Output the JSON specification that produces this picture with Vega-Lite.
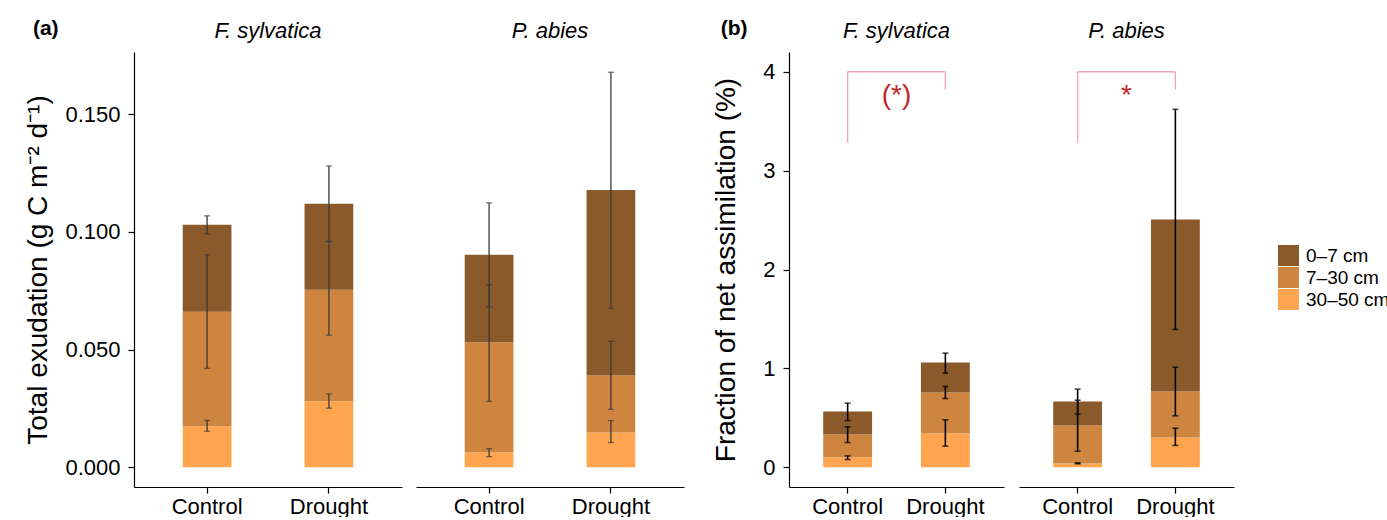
{
  "$schema": "https://vega.github.io/schema/vega-lite/v6.json",
  "background": "white",
  "autosize": {"type": "pad"},
  "padding": {"left": 24, "top": 18, "right": 5, "bottom": 0},
  "config": {
    "font": "Liberation Sans",
    "view": {"stroke": null},
    "axis": {"grid": false, "domainColor": "#000", "domainWidth": 1.2, "tickColor": "#000", "tickWidth": 1.2, "tickSize": 6, "labelColor": "#000", "labelFontSize": 22, "titleColor": "#000", "titleFontWeight": "normal", "titleFontSize": 28},
    "header": {"labelFontStyle": "italic", "labelFontSize": 22, "labelColor": "#000", "labelPadding": 9},
    "title": {"fontSize": 21, "fontWeight": "bold", "anchor": "start", "frame": "bounds", "color": "#000"}
  },
  "datasets": {
    "exud": [
      {"species": "F. sylvatica", "treatment": "Control", "depth": "30–50 cm", "top_cm": 30, "value": 0.0174, "lo": 0.0153, "hi": 0.0199},
      {"species": "F. sylvatica", "treatment": "Control", "depth": "7–30 cm", "top_cm": 7, "value": 0.0487, "lo": 0.042, "hi": 0.0903},
      {"species": "F. sylvatica", "treatment": "Control", "depth": "0–7 cm", "top_cm": 0, "value": 0.0369, "lo": 0.0992, "hi": 0.1068},
      {"species": "F. sylvatica", "treatment": "Drought", "depth": "30–50 cm", "top_cm": 30, "value": 0.028, "lo": 0.0251, "hi": 0.0311},
      {"species": "F. sylvatica", "treatment": "Drought", "depth": "7–30 cm", "top_cm": 7, "value": 0.0474, "lo": 0.0561, "hi": 0.0958},
      {"species": "F. sylvatica", "treatment": "Drought", "depth": "0–7 cm", "top_cm": 0, "value": 0.0365, "lo": 0.096, "hi": 0.128},
      {"species": "P. abies", "treatment": "Control", "depth": "30–50 cm", "top_cm": 30, "value": 0.0064, "lo": 0.0045, "hi": 0.0079},
      {"species": "P. abies", "treatment": "Control", "depth": "7–30 cm", "top_cm": 7, "value": 0.0467, "lo": 0.028, "hi": 0.0775},
      {"species": "P. abies", "treatment": "Control", "depth": "0–7 cm", "top_cm": 0, "value": 0.0372, "lo": 0.0682, "hi": 0.1123},
      {"species": "P. abies", "treatment": "Drought", "depth": "30–50 cm", "top_cm": 30, "value": 0.0148, "lo": 0.0105, "hi": 0.0198},
      {"species": "P. abies", "treatment": "Drought", "depth": "7–30 cm", "top_cm": 7, "value": 0.0242, "lo": 0.0246, "hi": 0.0535},
      {"species": "P. abies", "treatment": "Drought", "depth": "0–7 cm", "top_cm": 0, "value": 0.0788, "lo": 0.0675, "hi": 0.1678}
    ],
    "assim": [
      {"kind": "bar", "species": "F. sylvatica", "treatment": "Control", "depth": "30–50 cm", "top_cm": 30, "value": 0.098, "lo": 0.078, "hi": 0.115},
      {"kind": "bar", "species": "F. sylvatica", "treatment": "Control", "depth": "7–30 cm", "top_cm": 7, "value": 0.233, "lo": 0.25, "hi": 0.409},
      {"kind": "bar", "species": "F. sylvatica", "treatment": "Control", "depth": "0–7 cm", "top_cm": 0, "value": 0.233, "lo": 0.473, "hi": 0.648},
      {"kind": "bar", "species": "F. sylvatica", "treatment": "Drought", "depth": "30–50 cm", "top_cm": 30, "value": 0.341, "lo": 0.213, "hi": 0.48},
      {"kind": "bar", "species": "F. sylvatica", "treatment": "Drought", "depth": "7–30 cm", "top_cm": 7, "value": 0.415, "lo": 0.695, "hi": 0.817},
      {"kind": "bar", "species": "F. sylvatica", "treatment": "Drought", "depth": "0–7 cm", "top_cm": 0, "value": 0.304, "lo": 0.951, "hi": 1.154},
      {"kind": "bar", "species": "P. abies", "treatment": "Control", "depth": "30–50 cm", "top_cm": 30, "value": 0.037, "lo": 0.035, "hi": 0.045},
      {"kind": "bar", "species": "P. abies", "treatment": "Control", "depth": "7–30 cm", "top_cm": 7, "value": 0.385, "lo": 0.162, "hi": 0.678},
      {"kind": "bar", "species": "P. abies", "treatment": "Control", "depth": "0–7 cm", "top_cm": 0, "value": 0.243, "lo": 0.536, "hi": 0.79},
      {"kind": "bar", "species": "P. abies", "treatment": "Drought", "depth": "30–50 cm", "top_cm": 30, "value": 0.3, "lo": 0.22, "hi": 0.395},
      {"kind": "bar", "species": "P. abies", "treatment": "Drought", "depth": "7–30 cm", "top_cm": 7, "value": 0.466, "lo": 0.52, "hi": 1.012},
      {"kind": "bar", "species": "P. abies", "treatment": "Drought", "depth": "0–7 cm", "top_cm": 0, "value": 1.741, "lo": 1.394, "hi": 3.62},
      {"kind": "sig", "species": "F. sylvatica", "left": "Control", "right": "Drought", "top": 4.0, "leftEnd": 3.28, "rightEnd": 3.82, "label": "(*)", "labelY": 3.76},
      {"kind": "sig", "species": "P. abies", "left": "Control", "right": "Drought", "top": 4.0, "leftEnd": 3.28, "rightEnd": 3.82, "label": "*", "labelY": 3.76}
    ]
  },
  "spacing": 28,
  "hconcat": [
    {
      "data": {"name": "exud"},
      "title": {"text": "(a)", "offset": -19, "dx": 8},
      "facet": {"column": {"field": "species", "type": "nominal", "title": null, "sort": ["F. sylvatica", "P. abies"]}},
      "spacing": 14,
      "spec": {
        "width": 268,
        "height": 435,
        "encoding": {
          "x": {"field": "treatment", "type": "nominal", "scale": {"paddingInner": 0.6, "paddingOuter": 0.4}, "axis": {"title": null, "labelAngle": 0, "labelPadding": 3}}
        },
        "layer": [
          {
            "mark": {"type": "bar"},
            "encoding": {
              "y": {"field": "value", "type": "quantitative", "stack": "zero", "scale": {"domain": [-0.0084, 0.1764], "nice": false, "zero": false}, "axis": {"title": "Total exudation (g C m⁻² d⁻¹)", "values": [0, 0.05, 0.1, 0.15], "format": ".3f", "labelPadding": 8, "titlePadding": 12}},
              "color": {"field": "depth", "type": "nominal", "scale": {"domain": ["0–7 cm", "7–30 cm", "30–50 cm"], "range": ["#8B5A2B", "#CD853F", "#FFA54F"]}, "legend": {"title": null, "orient": "none", "legendX": 1144, "legendY": 193, "symbolType": "square", "symbolSize": 441, "symbolStrokeWidth": 0, "symbolOpacity": 1, "labelFontSize": 19, "labelColor": "#000", "labelOffset": 7, "rowPadding": 1}},
              "order": {"field": "top_cm", "sort": "descending"}
            }
          },
          {
            "mark": {"type": "rule", "color": "#3a3a3a", "strokeWidth": 1.3},
            "encoding": {"x": {"field": "treatment", "type": "nominal", "bandPosition": 0.5}, "y": {"field": "lo", "type": "quantitative"}, "y2": {"field": "hi"}}
          },
          {
            "mark": {"type": "tick", "color": "#3a3a3a", "size": 6, "thickness": 1.3},
            "encoding": {"x": {"field": "treatment", "type": "nominal", "bandPosition": 0.5}, "y": {"field": "lo", "type": "quantitative"}}
          },
          {
            "mark": {"type": "tick", "color": "#3a3a3a", "size": 6, "thickness": 1.3},
            "encoding": {"x": {"field": "treatment", "type": "nominal", "bandPosition": 0.5}, "y": {"field": "hi", "type": "quantitative"}}
          }
        ]
      }
    },
    {
      "data": {"name": "assim"},
      "title": {"text": "(b)", "offset": -19, "dx": 8},
      "facet": {"column": {"field": "species", "type": "nominal", "title": null, "sort": ["F. sylvatica", "P. abies"]}},
      "spacing": 15,
      "spec": {
        "width": 215,
        "height": 435,
        "layer": [
          {
            "transform": [{"filter": "datum.kind === 'bar'"}],
            "mark": {"type": "bar"},
            "encoding": {
              "x": {"field": "treatment", "type": "nominal", "scale": {"domain": ["Control", "Drought"], "paddingInner": 0.5, "paddingOuter": 0.35}, "axis": {"title": null, "labelAngle": 0, "labelPadding": 3}},
              "y": {"field": "value", "type": "quantitative", "stack": "zero", "scale": {"domain": [-0.2, 4.2], "nice": false, "zero": false}, "axis": {"title": "Fraction of net assimilation (%)", "values": [0, 1, 2, 3, 4], "format": "d", "labelPadding": 8, "titlePadding": 22}},
              "color": {"field": "depth", "type": "nominal", "scale": {"domain": ["0–7 cm", "7–30 cm", "30–50 cm"], "range": ["#8B5A2B", "#CD853F", "#FFA54F"]}, "legend": {"title": null, "orient": "none", "legendX": 1144, "legendY": 193, "symbolType": "square", "symbolSize": 441, "symbolStrokeWidth": 0, "symbolOpacity": 1, "labelFontSize": 19, "labelColor": "#000", "labelOffset": 7, "rowPadding": 1}},
              "order": {"field": "top_cm", "sort": "descending"}
            }
          },
          {
            "transform": [{"filter": "datum.kind === 'bar'"}],
            "mark": {"type": "rule", "color": "#000", "strokeWidth": 1.6},
            "encoding": {"x": {"field": "treatment", "type": "nominal", "bandPosition": 0.5}, "y": {"field": "lo", "type": "quantitative"}, "y2": {"field": "hi"}}
          },
          {
            "transform": [{"filter": "datum.kind === 'bar'"}],
            "mark": {"type": "tick", "color": "#000", "size": 6, "thickness": 1.6},
            "encoding": {"x": {"field": "treatment", "type": "nominal", "bandPosition": 0.5}, "y": {"field": "lo", "type": "quantitative"}}
          },
          {
            "transform": [{"filter": "datum.kind === 'bar'"}],
            "mark": {"type": "tick", "color": "#000", "size": 6, "thickness": 1.6},
            "encoding": {"x": {"field": "treatment", "type": "nominal", "bandPosition": 0.5}, "y": {"field": "hi", "type": "quantitative"}}
          },
          {
            "transform": [{"filter": "datum.kind === 'sig'"}],
            "mark": {"type": "rule", "color": "#F2A5B5", "strokeWidth": 1.3},
            "encoding": {"x": {"field": "left", "type": "nominal", "bandPosition": 0.5}, "y": {"field": "leftEnd", "type": "quantitative"}, "y2": {"field": "top"}}
          },
          {
            "transform": [{"filter": "datum.kind === 'sig'"}],
            "mark": {"type": "rule", "color": "#F2A5B5", "strokeWidth": 1.3},
            "encoding": {"x": {"field": "right", "type": "nominal", "bandPosition": 0.5}, "y": {"field": "rightEnd", "type": "quantitative"}, "y2": {"field": "top"}}
          },
          {
            "transform": [{"filter": "datum.kind === 'sig'"}],
            "mark": {"type": "rule", "color": "#F2A5B5", "strokeWidth": 1.3},
            "encoding": {"x": {"field": "left", "type": "nominal", "bandPosition": 0.5}, "x2": {"field": "right", "bandPosition": 0.5}, "y": {"field": "top", "type": "quantitative"}}
          },
          {
            "transform": [{"filter": "datum.kind === 'sig'"}],
            "mark": {"type": "text", "color": "#C0282D", "fontSize": 28, "baseline": "middle", "align": "center"},
            "encoding": {"x": {"field": "left", "type": "nominal", "bandPosition": 1.5}, "y": {"field": "labelY", "type": "quantitative"}, "text": {"field": "label"}}
          }
        ]
      }
    }
  ]
}
